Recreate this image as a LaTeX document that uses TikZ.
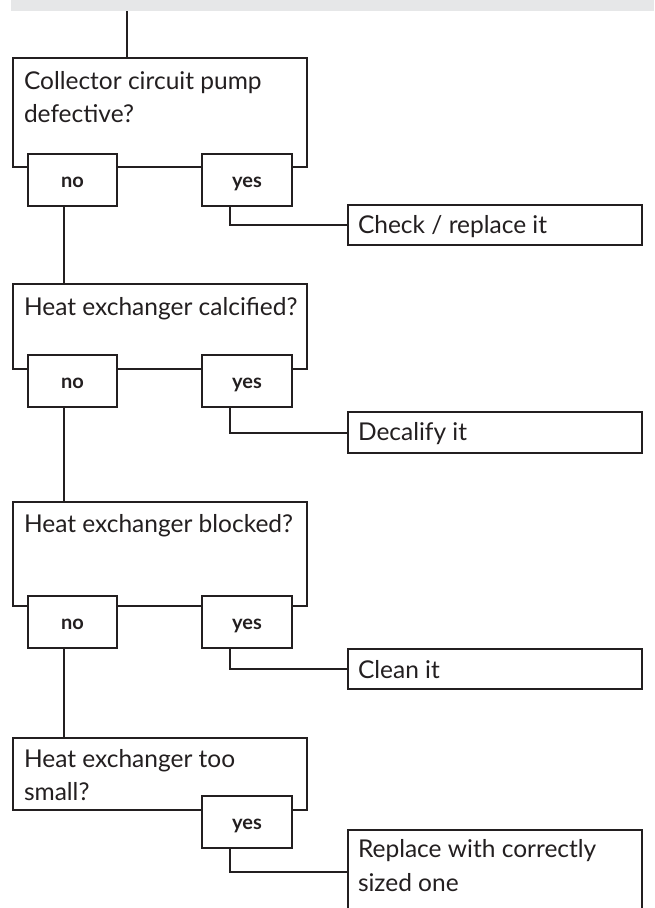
\documentclass[tikz,border=0pt]{standalone}
\usepackage{fontspec}
\setmainfont{Lato}
\definecolor{ink}{HTML}{231F20}
\definecolor{barfill}{HTML}{E6E7E8}
\begin{document}
\begin{tikzpicture}[x=1pt,y=-1pt,line width=2pt,draw=ink,
  box/.style={draw=ink,line width=2pt,fill=white,inner sep=0pt,outer sep=0pt,anchor=north west},
  qbox/.style={box,minimum width=294pt},
  rbox/.style={box,minimum width=294pt},
  ans/.style={box,minimum height=52pt,font=\bfseries\fontsize{20}{22}\selectfont,text=ink,text height=15pt,text depth=0pt},
  txt/.style={anchor=base west,inner sep=0pt,outer sep=0pt,text=ink,font=\fontsize{24.5}{28}\selectfont},
  conn/.style={draw=ink,line width=2pt}]
\path[use as bounding box] (0,0) rectangle (654,908);
\clip (0,0) rectangle (654,908);
% top bar
\node[anchor=north west,fill=barfill,inner sep=0pt,outer sep=0pt,minimum width=643pt,minimum height=11pt] (bar) at (11,0) {};
\coordinate (tx) at (127,0);
\coordinate (nx) at (64,0);
\coordinate (yx) at (230,0);
% question 1
\node[qbox,minimum height=109pt] (q1) at (13,58) {};
\node[ans,minimum width=89pt] (no1) at (28,154) {no};
\node[ans,minimum width=90pt] (yes1) at (202,154) {yes};
\node[rbox,minimum height=40pt] (r1) at (348,205) {};
\node[txt] (q1a) at (24,89) {Collector circuit pump};
\node[txt] (q1b) at (24,122) {defective?};
\node[txt] (r1t) at (358,233) {Check / replace it};
% question 2
\node[qbox,minimum height=85pt] (q2) at (13,284) {};
\node[ans,minimum width=89pt] (no2) at (28,355) {no};
\node[ans,minimum width=90pt] (yes2) at (202,355) {yes};
\node[rbox,minimum height=41pt] (r2) at (348,412) {};
\node[txt] (q2a) at (24,315) {Heat exchanger calcified?};
\node[txt] (r2t) at (358,440) {Decalify it};
% question 3
\node[qbox,minimum height=104pt] (q3) at (13,502) {};
\node[ans,minimum width=89pt] (no3) at (28,596) {no};
\node[ans,minimum width=90pt] (yes3) at (202,596) {yes};
\node[rbox,minimum height=40pt] (r3) at (348,649) {};
\node[txt] (q3a) at (24,532) {Heat exchanger blocked?};
\node[txt] (r3t) at (358,678) {Clean it};
% question 4
\node[qbox,minimum height=72pt] (q4) at (13,738) {};
\node[ans,minimum width=90pt] (yes4) at (202,796) {yes};
\node[rbox,minimum height=84pt] (r4) at (348,830) {};
\node[txt] (q4a) at (24,767) {Heat exchanger too};
\node[txt] (q4b) at (24,800) {small?};
\node[txt] (r4a) at (358,857) {Replace with correctly};
\node[txt] (r4b) at (358,891) {sized one};
% connectors
\draw[conn] (tx |- bar.south) -- (tx |- q1.north);
\draw[conn] (nx |- no1.south) -- (nx |- q2.north);
\draw[conn] (nx |- no2.south) -- (nx |- q3.north);
\draw[conn] (nx |- no3.south) -- (nx |- q4.north);
\draw[conn] (yx |- yes1.south) |- (r1.west);
\draw[conn] (yx |- yes2.south) |- (r2.west);
\draw[conn] (yx |- yes3.south) |- (r3.west);
\draw[conn] (yx |- yes4.south) |- (r4.west);
\end{tikzpicture}
\end{document}
